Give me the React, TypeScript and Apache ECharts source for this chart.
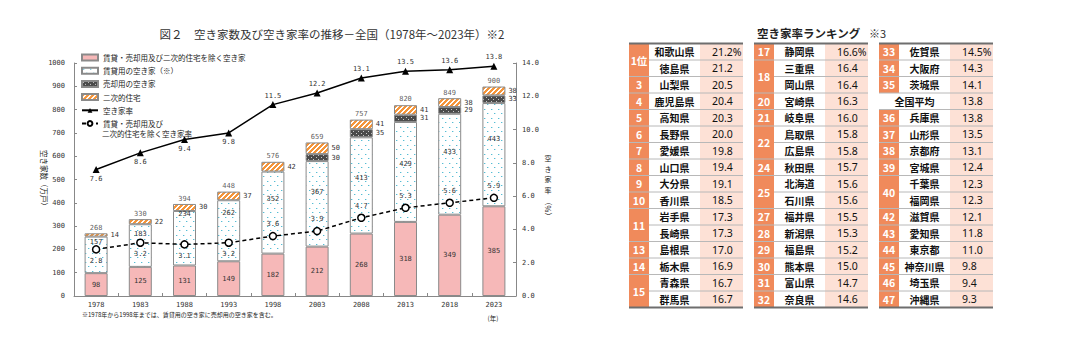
import React, { useEffect, useRef } from 'react';
import * as echarts from 'echarts';

// ---------------- data ----------------
const years = ['1978', '1983', '1988', '1993', '1998', '2003', '2008', '2013', '2018', '2023'];
const otherVacant = [98, 125, 131, 149, 182, 212, 268, 318, 349, 385];
const rentalVacant = [157, 183, 234, 262, 352, 367, 413, 429, 433, 443];
const saleVacant = [null, null, null, null, null, 30, 35, 31, 29, 33];
const secondaryHomes = [14, 22, 30, 37, 42, 50, 41, 41, 38, 38];
const totalVacant = [268, 330, 394, 448, 576, 659, 757, 820, 849, 900];
const vacancyRate = [7.6, 8.6, 9.4, 9.8, 11.5, 12.2, 13.1, 13.5, 13.6, 13.8];
const otherVacancyRate = [2.8, 3.2, 3.1, 3.2, 3.6, 3.9, 4.7, 5.3, 5.6, 5.9];

const prefNames = [
  '和歌山県', '徳島県', '山梨県', '鹿児島県', '高知県', '長野県', '愛媛県', '山口県',
  '大分県', '香川県', '岩手県', '長崎県', '島根県', '栃木県', '青森県', '群馬県',
  '静岡県', '三重県', '岡山県', '宮崎県', '岐阜県', '鳥取県', '広島県', '秋田県',
  '北海道', '石川県', '福井県', '新潟県', '福島県', '熊本県', '富山県', '奈良県',
  '佐賀県', '大阪府', '茨城県', '兵庫県', '山形県', '京都府', '宮城県', '千葉県',
  '福岡県', '滋賀県', '愛知県', '東京都', '神奈川県', '埼玉県', '沖縄県',
];
const prefRates = [
  21.2, 21.2, 20.5, 20.4, 20.3, 20.0, 19.8, 19.4,
  19.1, 18.5, 17.3, 17.3, 17.0, 16.9, 16.7, 16.7,
  16.6, 16.4, 16.4, 16.3, 16.0, 15.8, 15.8, 15.7,
  15.6, 15.6, 15.5, 15.3, 15.2, 15.0, 14.7, 14.6,
  14.5, 14.3, 14.1, 13.8, 13.5, 13.1, 12.4, 12.3,
  12.3, 12.1, 11.8, 11.0, 9.8, 9.4, 9.3,
];
const averageName = '全国平均';
const averageRate = 13.8;

// ---------------- names / styles ----------------
const S_OTHER = '賃貸・売却用及び二次的住宅を除く空き家';
const S_RENT = '賃貸用の空き家（※）';
const S_SALE = '売却用の空き家';
const S_SECOND = '二次的住宅';
const S_RATE = '空き家率';
const S_ORATE = '賃貸・売却用及び二次的住宅を除く空き家率';

const JP = "'Noto Sans CJK JP', 'Noto Sans', sans-serif";
const MONO = "'DejaVu Sans Mono', monospace";
const BORDER = '#8a8a8a';
const rentalLabelLift = [13, 12, 24, 18, 14, 12, 7, 8, 12, 16];

function makeTile(w: number, h: number, bg: string, paint: (ctx: CanvasRenderingContext2D) => void) {
  const c = document.createElement('canvas');
  c.width = w;
  c.height = h;
  const ctx = c.getContext('2d')!;
  ctx.fillStyle = bg;
  ctx.fillRect(0, 0, w, h);
  paint(ctx);
  return { image: c, repeat: 'repeat' };
}

function patterns() {
  const rent = makeTile(7, 9, '#ffffff', (ctx) => {
    ctx.fillStyle = '#55bcd4';
    ctx.fillRect(1, 1, 1, 1);
    ctx.fillRect(4, 5, 1, 1);
    ctx.fillStyle = 'rgba(85,188,212,0.35)';
    ctx.fillRect(2, 1, 1, 1);
    ctx.fillRect(5, 5, 1, 1);
  });
  const sale = makeTile(5, 4, '#4a4a4a', (ctx) => {
    ctx.fillStyle = '#c8c8c8';
    ctx.fillRect(1, 1, 1, 1);
    ctx.fillRect(3, 3, 1, 1);
  });
  const second = makeTile(5, 5, '#ffffff', (ctx) => {
    ctx.fillStyle = '#f5953a';
    for (let x = 0; x < 5; x++) {
      for (let y = 0; y < 5; y++) {
        if ((x + y) % 5 < 2.5) ctx.fillRect(x, y, 1, 1);
      }
    }
  });
  return { rent, sale, second };
}

// ---------------- table graphic ----------------
function buildTable(): any[] {
  const ranks = prefRates.map((r) => 1 + prefRates.filter((o) => o > r).length);
  const rows: { rank: number | null; name: string; value: number }[] = prefNames.map((n, i) => ({
    rank: ranks[i], name: n, value: prefRates[i],
  }));
  const insertAt = prefRates.findIndex((r) => r <= averageRate);
  rows.splice(insertAt, 0, { rank: null, name: averageName, value: averageRate });

  const TX = [629, 754, 879];
  const TY = 43.5;
  const RH = 16.5;
  const RW = 20, NW = 51, VW = 43;
  const W = RW + NW + VW;
  const per = 16;
  const els: any[] = [];
  for (let c = 0; c < 3; c++) {
    const x0 = TX[c];
    const colRows = rows.slice(c * per, c * per + per);
    els.push({ type: 'rect', shape: { x: x0 + RW + NW, y: TY, width: VW, height: per * RH }, style: { fill: '#fde1d6' }, silent: true });
    let i = 0;
    while (i < colRows.length) {
      let j = i;
      while (j + 1 < colRows.length && colRows[j + 1].rank !== null && colRows[j + 1].rank === colRows[i].rank) j++;
      const rk = colRows[i].rank;
      if (rk !== null) {
        els.push({ type: 'rect', shape: { x: x0, y: TY + i * RH, width: RW, height: (j - i + 1) * RH }, style: { fill: '#f08a5b' }, silent: true });
        els.push({
          type: 'text', x: x0 + RW / 2, y: TY + ((i + j + 1) / 2) * RH, silent: true,
          style: { text: rk === 1 ? '1位' : String(rk), fill: '#fff', fontSize: 10.5, fontWeight: 'bold', fontFamily: JP, align: 'center', verticalAlign: 'middle' },
        });
      }
      i = j + 1;
    }
    for (let r = 1; r < per; r++) {
      const a = colRows[r - 1].rank, b = colRows[r].rank;
      const merged = a !== null && a === b;
      const y = TY + r * RH;
      els.push({ type: 'line', shape: { x1: merged ? x0 + RW : x0, y1: y, x2: x0 + W, y2: y }, style: { stroke: '#b8b8b8', lineWidth: 1 }, silent: true });
    }
    els.push({ type: 'line', shape: { x1: x0, y1: TY, x2: x0 + W, y2: TY }, style: { stroke: '#6e6e6e', lineWidth: 2 }, silent: true });
    els.push({ type: 'line', shape: { x1: x0, y1: TY + per * RH, x2: x0 + W, y2: TY + per * RH }, style: { stroke: '#6e6e6e', lineWidth: 2 }, silent: true });
    colRows.forEach((row, r) => {
      const cy = TY + (r + 0.5) * RH;
      els.push({
        type: 'text', x: row.rank === null ? x0 + (RW + NW) / 2 : x0 + RW + NW / 2, y: cy, silent: true,
        style: { text: row.name, fill: '#111', fontSize: 10, fontWeight: 'bold', fontFamily: JP, align: 'center', verticalAlign: 'middle' },
      });
      els.push({
        type: 'text', x: x0 + RW + NW + 12, y: cy, silent: true,
        style: { text: row.value.toFixed(1) + (r === 0 ? '%' : ''), fill: '#111', fontSize: 10.5, fontFamily: "'Noto Sans', sans-serif", align: 'left', verticalAlign: 'middle' },
      });
    });
  }
  return els;
}

function buildOption(): any {
  const pat = patterns();
  const txt = (x: number, y: number, text: string, extra: any = {}, rot = 0) => ({
    type: 'text', x, y, rotation: rot, silent: true,
    style: { text, fill: '#222', fontSize: 7.5, fontFamily: JP, align: 'center', verticalAlign: 'middle', ...extra },
  });
  const graphic: any[] = [
    txt(332, 34, '図２　空き家数及び空き家率の推移－全国（1978年～2023年）※2', { fontSize: 11.5, fill: '#333' }),
    txt(757, 33, '空き家率ランキング', { fontSize: 11.5, fontWeight: 'bold', align: 'left', fill: '#222' }),
    txt(869, 33, '※3', { fontSize: 11, align: 'left', fill: '#333' }),
    txt(44, 180, '空き家数（万戸）', { fontSize: 7.5 }, -Math.PI / 2),
    txt(548, 174, '空\nき\n家\n率', { fontSize: 7, lineHeight: 10.5 }),
    txt(548, 209, '（%）', { fontSize: 7.5 }, -Math.PI / 2),
    txt(82, 314, '※1978年から1998年までは、賃貸用の空き家に売却用の空き家を含む。', { fontSize: 6, align: 'left' }),
    txt(493, 318, '(年)', { fontSize: 6.5 }),
    txt(102, 133.5, '二次的住宅を除く空き家率', { fontSize: 7.5, align: 'left' }),
    ...buildTable(),
  ];

  const numLabel = { fontSize: 7, color: '#333', fontFamily: MONO };

  return {
    animation: false,
    backgroundColor: '#fff',
    textStyle: { fontFamily: JP },
    grid: { left: 74, top: 63, width: 442, height: 233, containLabel: false },
    legend: {
      orient: 'vertical', left: 81, top: 53, padding: 0, itemWidth: 16, itemHeight: 6, itemGap: 4.2,
      selectedMode: false,
      textStyle: { fontSize: 7.5, lineHeight: 9, color: '#222', fontFamily: JP },
      formatter: (n: string) => (n === S_ORATE ? '賃貸・売却用及び' : n),
      data: [
        { name: S_OTHER, icon: 'rect' },
        { name: S_RENT, icon: 'rect' },
        { name: S_SALE, icon: 'rect' },
        { name: S_SECOND, icon: 'rect' },
        { name: S_RATE },
        { name: S_ORATE },
      ],
    },
    xAxis: {
      type: 'category', data: years, boundaryGap: true,
      axisLine: { lineStyle: { color: '#888' } },
      axisTick: { show: true, inside: true, length: 3, lineStyle: { color: '#888' } },
      axisLabel: { ...numLabel, margin: 5 },
    },
    yAxis: [
      {
        type: 'value', min: 0, max: 1000, interval: 100,
        axisLine: { show: true, lineStyle: { color: '#888' } },
        axisTick: { show: true, inside: true, length: 3, lineStyle: { color: '#888' } },
        axisLabel: { ...numLabel, margin: 9, formatter: (v: number) => String(v) },
        splitLine: { show: false },
      },
      {
        type: 'value', min: 0, max: 14, interval: 2, position: 'right',
        axisLine: { show: true, lineStyle: { color: '#888' } },
        axisTick: { show: true, inside: true, length: 3, lineStyle: { color: '#888' } },
        axisLabel: { ...numLabel, margin: 6, formatter: (v: number) => v.toFixed(1) },
        splitLine: { show: false },
      },
    ],
    series: [
      {
        name: S_OTHER, type: 'bar', stack: 'v', barWidth: 23, data: otherVacant,
        itemStyle: { color: '#f6b8b8', borderColor: BORDER, borderWidth: 1 },
        label: { show: true, position: 'inside', ...numLabel },
      },
      {
        name: S_RENT, type: 'bar', stack: 'v', barWidth: 23,
        data: rentalVacant.map((v, i) => ({ value: v, label: { offset: [0, -rentalLabelLift[i]] } })),
        itemStyle: { color: pat.rent, borderColor: BORDER, borderWidth: 1 },
        label: { show: true, position: 'inside', ...numLabel },
      },
      {
        name: S_SALE, type: 'bar', stack: 'v', barWidth: 23, data: saleVacant,
        itemStyle: { color: pat.sale, borderColor: BORDER, borderWidth: 1 },
        label: { show: true, position: 'right', distance: 3, ...numLabel },
      },
      {
        name: S_SECOND, type: 'bar', stack: 'v', barWidth: 23, data: secondaryHomes,
        itemStyle: { color: pat.second, borderColor: BORDER, borderWidth: 1 },
        label: { show: true, position: 'right', distance: 3, ...numLabel },
      },
      {
        name: S_RATE, type: 'line', yAxisIndex: 1,
        data: vacancyRate.map((v, i) => ({ value: v, label: { position: i < 4 ? 'bottom' : 'top' } })),
        symbol: 'triangle', symbolSize: 7,
        itemStyle: { color: '#000' },
        lineStyle: { color: '#000', width: 1.5 },
        label: { show: true, distance: 2, ...numLabel, formatter: (p: any) => Number(p.value).toFixed(1) },
        z: 5,
      },
      {
        name: S_ORATE, type: 'line', yAxisIndex: 1,
        data: otherVacancyRate.map((v, i) => ({ value: v, label: { position: i < 4 ? 'bottom' : 'top' } })),
        symbol: 'circle', symbolSize: 7,
        itemStyle: { color: '#fff', borderColor: '#000', borderWidth: 1.5 },
        lineStyle: { color: '#000', width: 1.5, type: [4, 3] },
        label: { show: true, distance: 4, ...numLabel, formatter: (p: any) => Number(p.value).toFixed(1) },
        z: 5,
      },
      {
        name: 'total', type: 'scatter', data: totalVacant, symbolSize: 0.1,
        itemStyle: { color: 'rgba(0,0,0,0)' },
        label: { show: true, position: 'top', distance: 2, ...numLabel },
        z: 6, silent: true,
      },
    ],
    graphic,
  };
}

export default function App() {
  const ref = useRef<HTMLDivElement>(null);
  useEffect(() => {
    if (!ref.current) return;
    const chart = echarts.init(ref.current, null, { renderer: 'svg' });
    chart.setOption(buildOption());
    return () => chart.dispose();
  }, []);
  return (
    <div
      ref={ref}
      style={{ position: 'fixed', left: 0, top: 0, width: 1080, height: 350, background: '#fff' }}
    />
  );
}
